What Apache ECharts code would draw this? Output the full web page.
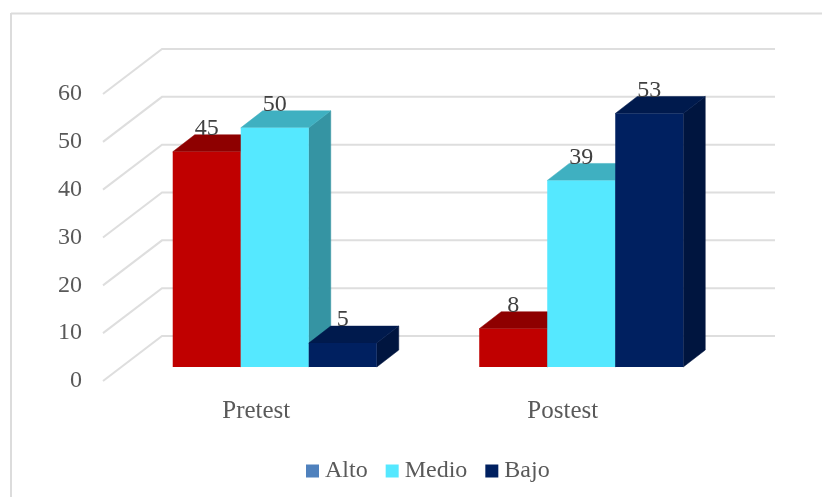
<!DOCTYPE html>
<html><head><meta charset="utf-8">
<style>html,body{margin:0;padding:0;background:#fff;overflow:hidden}#c{width:822px;height:497px;filter:blur(0.45px)}</style>
<script src="https://cdn.jsdelivr.net/npm/echarts@6/dist/echarts.min.js"></script>
</head><body><div id="c"></div>
<script>
const categories = ['Pretest', 'Postest'];
const seriesNames = ['Alto', 'Medio', 'Bajo'];
const alto = [45, 8];
const medio = [50, 39];
const bajo = [5, 53];
const yTicks = [0, 10, 20, 30, 40, 50, 60];

const FONT = '"Liberation Serif", serif';
const WALL = { dx: 59, dy: 45 };
const NEAR = { dx: 18.5, dy: 14 };
const DEPTH = { dx: 22, dy: 17 };
const BAR_FRAC = 0.2219;
const shades = [
  { legend: '#4F81BD', front: '#C00000', top: '#8E0000', side: '#8E0000' },
  { legend: '#55E8FF', front: '#55E8FF', top: '#3FB0C1', side: '#3594A3' },
  { legend: '#002060', front: '#002060', top: '#001A4D', side: '#00153F' }
];

function barRender(idx) {
  return function (params, api) {
    const i = api.value(0), v = api.value(1);
    const pc = api.coord([i, v]), p0 = api.coord([i, 0]);
    const w = api.size([1, 0])[0] * BAR_FRAC;
    const x0 = pc[0] + NEAR.dx + (idx - 1.5) * w, x1 = x0 + w;
    const yt = pc[1] - NEAR.dy, yb = p0[1] - NEAR.dy;
    const dx = DEPTH.dx, dy = DEPTH.dy, c = shades[idx];
    const poly = (pts, fill) => ({ type: 'polygon', shape: { points: pts }, style: { fill: fill, stroke: fill, lineWidth: 0.5 } });
    return { type: 'group', children: [
      poly([[x1, yt], [x1 + dx, yt - dy], [x1 + dx, yb - dy], [x1, yb]], c.side),
      poly([[x0, yt], [x1, yt], [x1 + dx, yt - dy], [x0 + dx, yt - dy]], c.top),
      { type: 'rect', shape: { x: x0, y: yt, width: w, height: yb - yt }, style: { fill: c.front } },
      { type: 'text', style: { text: String(v), x: (x0 + x1) / 2, y: yt - 23, align: 'center', verticalAlign: 'middle',
        fill: '#404040', font: '24px ' + FONT } }
    ] };
  };
}
function wallRender(params, api) {
  const p = api.coord([0, api.value(0)]);
  const cs = params.coordSys, y = p[1], x = cs.x;
  return { type: 'polyline', shape: { points: [[x, y], [x + WALL.dx, y - WALL.dy], [x + cs.width + WALL.dx, y - WALL.dy]] },
    style: { fill: null, stroke: '#DEDEDE', lineWidth: 2 } };
}
const values = [alto, medio, bajo];
const series = [{ type: 'custom', name: 'wall', renderItem: wallRender, data: yTicks.map(t => [t]), encode: { y: 0 }, silent: true, z: 1 }];
seriesNames.forEach((n, k) => series.push({
  type: 'custom', name: n, renderItem: barRender(k), itemStyle: { color: shades[k].legend }, z: 2 + k,
  data: values[k].map((v, i) => [i, v]), encode: { x: 0, y: 1 }
}));

const frameStyle = { stroke: '#DCDCDC', lineWidth: 2 };
const chart = echarts.init(document.getElementById('c'), null, { renderer: 'canvas' });
chart.setOption({
  animation: false,
  backgroundColor: '#fff',
  graphic: [
    { type: 'line', shape: { x1: 11, y1: 13.5, x2: 822, y2: 13.5 }, style: frameStyle, silent: true },
    { type: 'line', shape: { x1: 11, y1: 13, x2: 11, y2: 497 }, style: frameStyle, silent: true }
  ],
  grid: { left: 103, top: 94, width: 613, height: 287, containLabel: false },
  legend: { data: seriesNames, left: 301, top: 454, icon: 'rect', itemWidth: 13, itemHeight: 13, itemGap: 18,
    textStyle: { fontFamily: FONT, fontSize: 24, color: '#595959', padding: [0, 0, 0, 1] } },
  xAxis: { type: 'category', data: categories, axisLine: { show: false }, axisTick: { show: false }, splitLine: { show: false },
    axisLabel: { margin: 18, fontFamily: FONT, fontSize: 25, color: '#595959' } },
  yAxis: { type: 'value', min: 0, max: 60, interval: 10, axisLine: { show: false }, axisTick: { show: false }, splitLine: { show: false },
    axisLabel: { margin: 21, fontFamily: FONT, fontSize: 24, color: '#595959' } },
  series: series
});
</script></body></html>
